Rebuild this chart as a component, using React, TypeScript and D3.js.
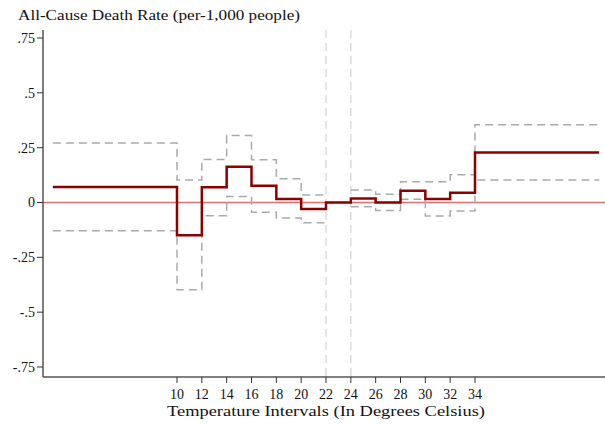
import React from "react";
import * as d3 from "d3";

const binStarts = [0, 10, 12, 14, 16, 18, 20, 22, 24, 26, 28, 30, 32, 34];
const binEnds = [10, 12, 14, 16, 18, 20, 22, 24, 26, 28, 30, 32, 34, 44];
const estimate = [0.071, -0.149, 0.069, 0.163, 0.076, 0.016, -0.03, 0, 0.018, 0, 0.054, 0.016, 0.045, 0.228];
const upperCI = [0.271, 0.103, 0.196, 0.305, 0.195, 0.108, 0.034, null, 0.057, 0.038, 0.095, 0.095, 0.126, 0.355];
const lowerCI = [-0.129, -0.398, -0.06, 0.027, -0.045, -0.071, -0.092, null, -0.019, -0.037, 0.015, -0.062, -0.039, 0.103];
const xTicks = [10, 12, 14, 16, 18, 20, 22, 24, 26, 28, 30, 32, 34];
const yTicks = [0.75, 0.5, 0.25, 0, -0.25, -0.5, -0.75];
const yTickLabels = [".75", ".5", ".25", "0", "-.25", "-.5", "-.75"];
const refLines = [22, 24];

const W = 605, H = 424;
const left = 43, right = 605, top = 30, bottom = 377;
const FONT = "'Liberation Serif', 'DejaVu Serif', serif";

function stepPath(x: d3.ScaleLinear<number, number>, y: d3.ScaleLinear<number, number>, vals: (number | null)[]) {
  let d = "";
  let started = false;
  vals.forEach((v, i) => {
    if (v === null) { started = false; return; }
    const x0 = x(binStarts[i]), x1 = x(binEnds[i]), yy = y(v);
    d += (started ? "L" : "M") + x0 + "," + yy + "L" + x1 + "," + yy;
    started = true;
  });
  return d;
}

export default function App() {
  const x = d3.scaleLinear().domain([10, 34]).range([177, 475]);
  const y = d3.scaleLinear().domain([0, 0.75]).range([202.5, 38]);
  return (
    <svg width={W} height={H} style={{ position: "absolute", left: 0, top: 0, background: "#fff" }}>
      <rect x={0} y={0} width={W} height={H} fill="#fff" />
      <text x={18} y={20} fontFamily={FONT} fontSize={15.5} fill="#111" textLength={282} lengthAdjust="spacingAndGlyphs">All-Cause Death Rate (per-1,000 people)</text>
      {refLines.map((r) => (
        <line key={r} x1={x(r)} x2={x(r)} y1={top} y2={bottom} stroke="#dcdcdc" strokeWidth={1.5} strokeDasharray="8,5" />
      ))}
      <line x1={left} x2={right} y1={y(0)} y2={y(0)} stroke="#e07070" strokeWidth={1.5} />
      <path d={stepPath(x, y, upperCI)} fill="none" stroke="#aaaaaa" strokeWidth={1.5} strokeDasharray="8,5" />
      <path d={stepPath(x, y, lowerCI)} fill="none" stroke="#aaaaaa" strokeWidth={1.5} strokeDasharray="8,5" />
      <path d={stepPath(x, y, estimate)} fill="none" stroke="#8b0000" strokeWidth={2.5} />
      <line x1={left} x2={left} y1={top} y2={bottom} stroke="#555" strokeWidth={1.5} />
      <line x1={left} x2={right} y1={bottom} y2={bottom} stroke="#555" strokeWidth={1.5} />
      {yTicks.map((t, i) => (
        <g key={t}>
          <line x1={left - 6} x2={left} y1={y(t)} y2={y(t)} stroke="#333" strokeWidth={1} />
          <text x={left - 8} y={y(t)} dy="0.35em" textAnchor="end" fontFamily={FONT} fontSize={14} fill="#111">{yTickLabels[i]}</text>
        </g>
      ))}
      {xTicks.map((t) => (
        <g key={t}>
          <line x1={x(t)} x2={x(t)} y1={bottom} y2={bottom + 6} stroke="#333" strokeWidth={1} />
          <text x={x(t)} y={399} textAnchor="middle" fontFamily={FONT} fontSize={14} fill="#111">{t}</text>
        </g>
      ))}
      <text x={167} y={416} fontFamily={FONT} fontSize={15.5} fill="#111" textLength={318} lengthAdjust="spacingAndGlyphs">Temperature Intervals (In Degrees Celsius)</text>
    </svg>
  );
}
